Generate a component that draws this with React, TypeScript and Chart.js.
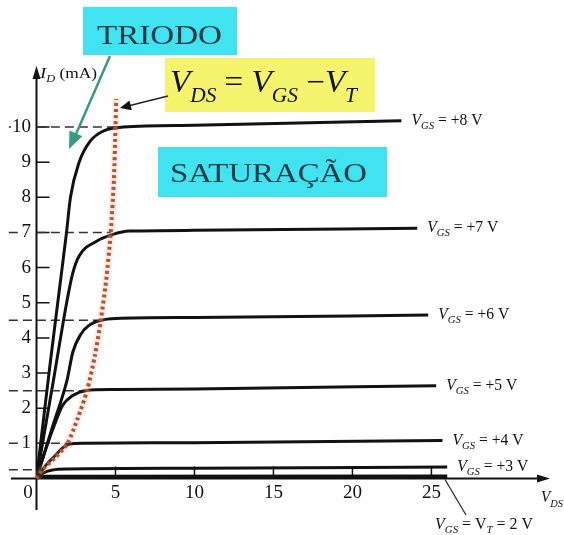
import React, { useEffect, useRef } from "react";
import { Chart, registerables } from "chart.js";
Chart.register(...registerables);

// ---- data (VDS in V, ID in mA) ----
const xTickValues = [5, 10, 15, 20, 25];
const yTickValues = [1, 2, 3, 4, 5, 6, 7, 8, 9, 10];

const vgs8 = [
  { x: 0, y: 0 }, { x: 0.5, y: 1.9 }, { x: 0.9, y: 3.4 }, { x: 1.4, y: 5.2 }, { x: 1.9, y: 7.0 },
  { x: 2.15, y: 8.0 }, { x: 2.7, y: 9.0 }, { x: 3.4, y: 9.6 }, { x: 4.3, y: 9.9 }, { x: 5.5, y: 10.0 },
  { x: 10, y: 10.05 }, { x: 23.1, y: 10.18 },
];
const vgs7 = [
  { x: 0, y: 0 }, { x: 1.0, y: 2.6 }, { x: 1.95, y: 5.1 }, { x: 2.3, y: 5.85 }, { x: 2.7, y: 6.33 },
  { x: 3.8, y: 6.75 }, { x: 4.8, y: 6.94 }, { x: 5.9, y: 7.04 }, { x: 10, y: 7.06 }, { x: 24.1, y: 7.12 },
];
const vgs6 = [
  { x: 0, y: 0 }, { x: 1.0, y: 1.45 }, { x: 1.95, y: 2.83 }, { x: 2.3, y: 3.6 }, { x: 2.8, y: 4.1 },
  { x: 3.3, y: 4.35 }, { x: 4.1, y: 4.5 }, { x: 5, y: 4.55 }, { x: 10, y: 4.58 }, { x: 24.8, y: 4.65 },
];
const vgs5 = [
  { x: 0, y: 0 }, { x: 0.6, y: 0.85 }, { x: 1.2, y: 1.6 }, { x: 1.65, y: 2.08 }, { x: 2.3, y: 2.36 },
  { x: 3.1, y: 2.5 }, { x: 5, y: 2.53 }, { x: 10, y: 2.55 }, { x: 25.3, y: 2.64 },
];
const vgs4 = [
  { x: 0, y: 0 }, { x: 0.6, y: 0.38 }, { x: 1.2, y: 0.66 }, { x: 1.6, y: 0.85 }, { x: 2.1, y: 0.98 },
  { x: 3, y: 1.0 }, { x: 10, y: 1.02 }, { x: 25.7, y: 1.08 },
];
const vgs3 = [
  { x: 0, y: 0 }, { x: 0.4, y: 0.15 }, { x: 1.0, y: 0.24 }, { x: 2, y: 0.27 }, { x: 10, y: 0.29 }, { x: 26, y: 0.33 },
];
const vgs2 = [{ x: 0, y: 0.05 }, { x: 26, y: 0.06 }];
const saturationLocus = [
  { x: 0, y: 0 }, { x: 0.37, y: 0.25 }, { x: 1.2, y: 0.6 }, { x: 1.96, y: 1.0 }, { x: 2.6, y: 1.7 },
  { x: 3.2, y: 2.5 }, { x: 3.7, y: 3.5 }, { x: 4.07, y: 4.5 }, { x: 4.4, y: 5.6 }, { x: 4.7, y: 7.0 },
  { x: 4.9, y: 8.5 }, { x: 5.0, y: 10.0 }, { x: 5.05, y: 10.8 },
];
const refLevels = [10, 7, 4.5, 2.5, 1, 0.25];
const refEnds = [5.0, 4.7, 4.07, 3.2, 1.96, 0];
const curveNames = ["+8 V", "+7 V", "+6 V", "+5 V", "+4 V", "+3 V"];

const SERIF = "'Liberation Serif', 'DejaVu Serif', serif";

type Part = { t: string; font: string; dy?: number };
function drawParts(ctx: CanvasRenderingContext2D, parts: Part[], x: number, y: number, width?: number, color = "#111") {
  let total = 0;
  const ws: number[] = [];
  for (const p of parts) {
    ctx.font = p.font;
    const w = ctx.measureText(p.t).width;
    ws.push(w);
    total += w;
  }
  const s = width ? width / total : 1;
  ctx.save();
  ctx.translate(x, y);
  ctx.scale(s, 1);
  ctx.fillStyle = color;
  ctx.textAlign = "left";
  ctx.textBaseline = "alphabetic";
  let cx = 0;
  parts.forEach((p, i) => {
    ctx.font = p.font;
    ctx.fillText(p.t, cx, p.dy || 0);
    cx += ws[i];
  });
  ctx.restore();
}

function arrowHead(ctx: CanvasRenderingContext2D, fx: number, fy: number, tx: number, ty: number, len: number, half: number, color: string) {
  const a = Math.atan2(ty - fy, tx - fx);
  ctx.save();
  ctx.fillStyle = color;
  ctx.beginPath();
  ctx.moveTo(tx, ty);
  ctx.lineTo(tx - len * Math.cos(a) + half * Math.sin(a), ty - len * Math.sin(a) - half * Math.cos(a));
  ctx.lineTo(tx - len * Math.cos(a) - half * Math.sin(a), ty - len * Math.sin(a) + half * Math.cos(a));
  ctx.closePath();
  ctx.fill();
  ctx.restore();
}

const overlay = {
  id: "overlay",
  beforeDatasetsDraw(chart: any) {
    const ctx: CanvasRenderingContext2D = chart.ctx;
    const xs = chart.scales.x, ys = chart.scales.y;
    const x0 = xs.getPixelForValue(0), y0 = ys.getPixelForValue(0);
    ctx.save();
    ctx.strokeStyle = "#111";
    ctx.lineWidth = 2;
    ctx.beginPath();
    ctx.moveTo(x0, 510);
    ctx.lineTo(x0, 76);
    ctx.moveTo(11, y0);
    ctx.lineTo(540, y0);
    ctx.stroke();
    arrowHead(ctx, x0, 100, x0, 66, 13, 4, "#111");
    arrowHead(ctx, 500, y0, 550, y0, 13, 4, "#111");
    // ticks
    ctx.lineWidth = 1.5;
    ctx.beginPath();
    for (const v of yTickValues) {
      const py = ys.getPixelForValue(v);
      ctx.moveTo(x0, py);
      ctx.lineTo(x0 + 13, py);
    }
    for (const v of xTickValues) {
      const px = xs.getPixelForValue(v);
      ctx.moveTo(px, y0);
      ctx.lineTo(px, y0 - 12);
    }
    ctx.stroke();
    ctx.restore();
  },
  afterDatasetsDraw(chart: any) {
    const ctx: CanvasRenderingContext2D = chart.ctx;
    const xs = chart.scales.x, ys = chart.scales.y;
    const y0 = ys.getPixelForValue(0);
    ctx.save();
    // tick labels
    ctx.font = `19px ${SERIF}`;
    ctx.fillStyle = "#111";
    ctx.textBaseline = "middle";
    ctx.textAlign = "right";
    for (const v of yTickValues) {
      const py = ys.getPixelForValue(v);
      const w = ctx.measureText(String(v)).width;
      ctx.fillStyle = "#fff";
      ctx.fillRect(31 - w - 1, py - 3, w + 2, 6);
      ctx.fillStyle = "#111";
      ctx.fillText(String(v), 31, py);
    }
    ctx.textAlign = "center";
    for (const v of xTickValues) {
      ctx.fillText(String(v), xs.getPixelForValue(v), y0 + 15);
    }
    ctx.fillText("0", 28, y0 + 15);

    // axis titles
    drawParts(ctx, [
      { t: "I", font: `italic 15px ${SERIF}` },
      { t: "D", font: `italic 10px ${SERIF}`, dy: 4 },
      { t: " (mA)", font: `14px ${SERIF}` },
    ], 40, 78, 57);
    drawParts(ctx, [
      { t: "V", font: `italic 16px ${SERIF}` },
      { t: "DS", font: `italic 11px ${SERIF}`, dy: 5 },
    ], 541, 502, 22);

    // curve labels
    const series = [vgs8, vgs7, vgs6, vgs5, vgs4, vgs3];
    series.forEach((s, i) => {
      const end = s[s.length - 1];
      const px = xs.getPixelForValue(end.x) + 10;
      const py = ys.getPixelForValue(end.y) + 4;
      drawParts(ctx, [
        { t: "V", font: `italic 16px ${SERIF}` },
        { t: "GS", font: `italic 11px ${SERIF}`, dy: 4 },
        { t: " = " + curveNames[i], font: `16px ${SERIF}` },
      ], px, py, 71);
    });
    // VT label + leader
    ctx.strokeStyle = "#222";
    ctx.lineWidth = 1.2;
    ctx.beginPath();
    ctx.moveTo(445, y0 + 1);
    ctx.lineTo(466, 515);
    ctx.stroke();
    drawParts(ctx, [
      { t: "V", font: `italic 16px ${SERIF}` },
      { t: "GS", font: `italic 11px ${SERIF}`, dy: 4 },
      { t: " = V", font: `16px ${SERIF}` },
      { t: "T", font: `italic 11px ${SERIF}`, dy: 4 },
      { t: " = 2 V", font: `16px ${SERIF}` },
    ], 435, 529, 98);

    // TRIODO box
    ctx.fillStyle = "#42e3f0";
    ctx.fillRect(83, 7, 154, 48);
    drawParts(ctx, [{ t: "TRIODO", font: `28px ${SERIF}` }], 97, 43.5, 125, "#1a3c46");
    // green arrow
    ctx.strokeStyle = "#3a9a80";
    ctx.lineWidth = 2.5;
    ctx.beginPath();
    ctx.moveTo(110, 56);
    ctx.lineTo(76, 134);
    ctx.stroke();
    arrowHead(ctx, 110, 56, 69, 149, 17, 7, "#3a9a80");

    // formula box
    ctx.fillStyle = "#f6f36c";
    ctx.fillRect(165, 58, 210, 54);
    drawParts(ctx, [
      { t: "V", font: `italic 31px ${SERIF}` },
      { t: "DS", font: `italic 20px ${SERIF}`, dy: 10 },
      { t: " = ", font: `31px ${SERIF}` },
      { t: "V", font: `italic 31px ${SERIF}` },
      { t: "GS", font: `italic 20px ${SERIF}`, dy: 10 },
      { t: " \u2212", font: `31px ${SERIF}` },
      { t: "V", font: `italic 31px ${SERIF}` },
      { t: "T", font: `italic 20px ${SERIF}`, dy: 10 },
    ], 170, 92, 187, "#111");
    // black arrow
    ctx.strokeStyle = "#222";
    ctx.lineWidth = 1.3;
    ctx.beginPath();
    ctx.moveTo(168, 96);
    ctx.lineTo(128, 106);
    ctx.stroke();
    arrowHead(ctx, 168, 96, 120, 108, 11, 5, "#111");

    // SATURACAO box
    ctx.fillStyle = "#42e3f0";
    ctx.fillRect(158, 147, 229, 50);
    drawParts(ctx, [{ t: "SATURAÇÃO", font: `28px ${SERIF}` }], 170, 181.5, 197, "#1a3c46");
    ctx.restore();
  },
};

export default function App() {
  const ref = useRef<HTMLCanvasElement | null>(null);
  useEffect(() => {
    if (!ref.current) return;
    const curve = (data: any[], w = 3) => ({
      data,
      borderColor: "#111",
      borderWidth: w,
      pointRadius: 0,
      cubicInterpolationMode: "monotone" as const,
      fill: false,
    });
    const refLines = refLevels.map((lv, i) => ({
      data: [{ x: -1.75, y: lv }, { x: refEnds[i], y: lv }],
      borderColor: "#333",
      borderWidth: 1.5,
      borderDash: [9, 5],
      pointRadius: 0,
      tension: 0,
      clip: false as const,
      fill: false,
    }));
    const chart = new Chart(ref.current, {
      type: "line",
      data: {
        datasets: [
          {
            data: saturationLocus,
            borderColor: "#b3522c",
            borderWidth: 4,
            borderDash: [3, 3],
            pointRadius: 0,
            tension: 0.25,
            fill: false,
            clip: false,
          } as any,
          {
            data: saturationLocus,
            borderColor: "rgba(235,160,140,0.18)",
            borderWidth: 8,
            pointRadius: 0,
            tension: 0.25,
            fill: false,
            clip: false,
          } as any,
          curve(vgs8), curve(vgs7), curve(vgs6), curve(vgs5), curve(vgs4), curve(vgs3), curve(vgs2, 4),
          ...refLines,
        ],
      },
      options: {
        animation: false,
        responsive: false,
        events: [],
        layout: { padding: { left: 36.5, right: 22, top: 70.8, bottom: 56.5 } },
        plugins: { legend: { display: false }, tooltip: { enabled: false } },
        scales: {
          x: { type: "linear", min: 0, max: 32, display: false },
          y: { type: "linear", min: 0, max: 11.6, display: false },
        },
      },
      plugins: [overlay],
    });
    return () => chart.destroy();
  }, []);
  return (
    <div style={{ position: "absolute", left: 0, top: 0, width: 564, height: 535, background: "#fff" }}>
      <canvas ref={ref} width={564} height={535} style={{ width: 564, height: 535, display: "block" }} />
    </div>
  );
}
